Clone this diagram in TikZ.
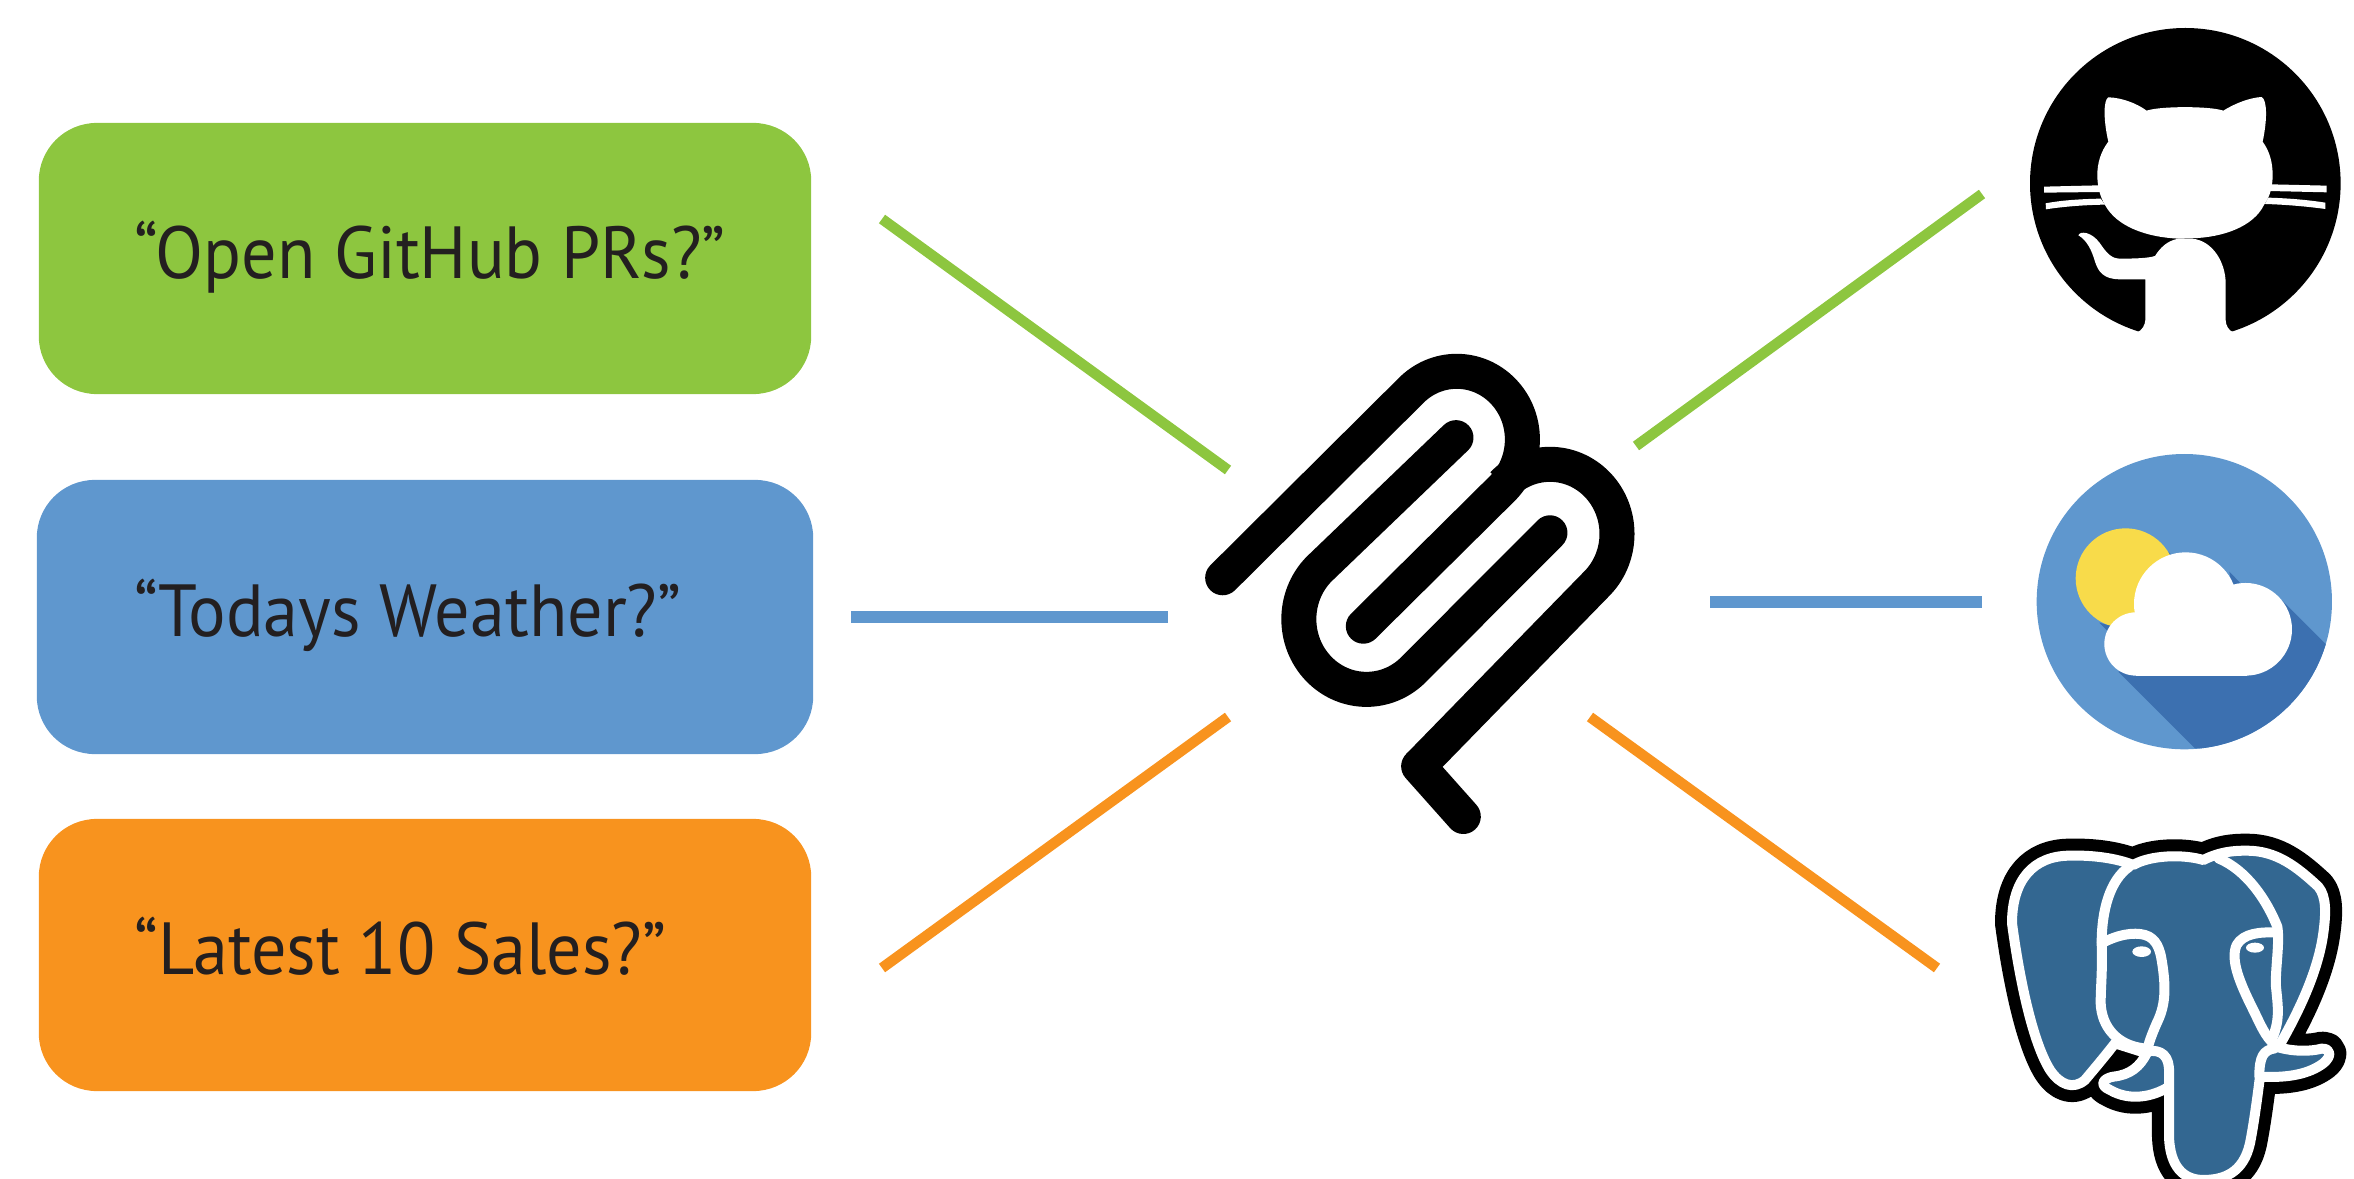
\documentclass[tikz,border=0pt]{standalone}
\usepackage{fontspec}
\setmainfont[FakeStretch=0.95]{PT Sans}
\definecolor{qgreen}{HTML}{8DC63F}
\definecolor{qblue}{HTML}{5F97CE}
\definecolor{qorange}{HTML}{F8931E}
\definecolor{qink}{HTML}{231F20}
\definecolor{dkblue}{HTML}{3C70B0}
\definecolor{sunyellow}{HTML}{F8DB4A}
\definecolor{pg}{HTML}{336791}
\tikzset{
  qbox/.style={rounded corners=0.58cm,draw=none,inner sep=0pt},
  qtext/.style={anchor=base west,inner sep=0pt,text=qink,font=\fontsize{21}{24}\selectfont},
  link/.style={line width=0.105cm},
  clip wire/.style={line width=0.35cm,line cap=round,line join=round,draw=black},
  pgline/.style={draw=white,line width=0.1cm,line cap=round,line join=round}
}
\begin{document}
\begin{tikzpicture}[x=0.01cm,y=-0.01cm]
\useasboundingbox (0,0) rectangle (2354,1179);
% question boxes
\node[qbox,fill=qgreen,minimum width=7.72cm,minimum height=2.71cm] (q1) at (425,258.5) {};
\node[qbox,fill=qblue,minimum width=7.76cm,minimum height=2.74cm] (q2) at (425,617) {};
\node[qbox,fill=qorange,minimum width=7.72cm,minimum height=2.72cm] (q3) at (425,955) {};
\node[qtext] (t1) at (134,278) {“Open GitHub PRs?”};
\node[qtext] (t2) at (134,636) {“Todays Weather?”};
\node[qtext] (t3) at (134,974) {“Latest 10 Sales?”};
% connector ends
\coordinate (a1) at (882,219); \coordinate (b1) at (1228,470);
\coordinate (a2) at (851,617); \coordinate (b2) at (1168,617);
\coordinate (a3) at (882,968); \coordinate (b3) at (1228,717);
\coordinate (c1) at (1636,446); \coordinate (d1) at (1982,194);
\coordinate (c2) at (1710,602); \coordinate (d2) at (1982,602);
\coordinate (c3) at (1590,717); \coordinate (d3) at (1937,968);
\draw[link,draw=qgreen] (a1) -- (b1);
\draw[link,draw=qblue,line width=0.115cm] (a2) -- (b2);
\draw[link,draw=qorange] (a3) -- (b3);
\draw[link,draw=qgreen] (c1) -- (d1);
\draw[link,draw=qblue,line width=0.115cm] (c2) -- (d2);
\draw[link,draw=qorange] (c3) -- (d3);
% paperclip
\begin{scope}[shift={(1150,320)},xscale=0.3333,yscale=0.346]
\draw[clip wire] (218,745) -- (781,206) arc[start angle=225,end angle=405,radius=197] -- (640,885);
\draw[clip wire] (918,340) -- (506,721) arc[start angle=225,end angle=45,radius=203] -- (1200,615);
\draw[clip wire,line cap=butt] (1058,476) arc[start angle=225,end angle=405,radius=201] -- (806,1290);
\draw[clip wire] (806,1290) -- (940,1435);
\end{scope}
% GitHub
\begin{scope}[shift={(1980,0)},scale=0.3333]
\fill[black] (616,550) circle[radius=466];
\fill[white] (500,332) .. controls (540,318) and (690,318) .. (730,332)
 .. controls (765,310) and (810,293) .. (845,291)
 .. controls (862,300) and (862,360) .. (848,425)
 .. controls (870,455) and (878,490) .. (878,525)
 .. controls (878,560) and (870,590) .. (852,615)
 .. controls (820,680) and (730,712) .. (636,715)
 -- (596,716)
 .. controls (500,712) and (410,680) .. (375,615)
 .. controls (360,590) and (352,560) .. (352,525)
 .. controls (352,490) and (362,455) .. (385,425)
 .. controls (370,360) and (370,300) .. (385,292)
 .. controls (425,293) and (470,310) .. (500,332) -- cycle;
\fill[white] (636,716) .. controls (700,722) and (737,790) .. (737,850) -- (737,960)
 .. controls (737,975) and (745,992) .. (762,998) -- (762,1040) -- (472,1040) -- (472,997)
 .. controls (485,992) and (496,975) .. (496,960) -- (496,838) -- (420,838)
 .. controls (370,838) and (355,815) .. (345,785)
 .. controls (335,750) and (320,720) .. (295,706)
 .. controls (300,692) and (335,695) .. (360,730)
 .. controls (380,760) and (395,776) .. (420,776)
 .. controls (460,776) and (505,775) .. (525,768)
 .. controls (540,745) and (560,722) .. (596,716) -- cycle;
\fill[white] (192,560) -- (360,556) -- (365,576) -- (192,578) -- cycle;
\fill[white] (197,610) .. controls (250,600) and (310,597) .. (362,596) -- (375,614) .. controls (310,615) and (250,620) .. (198,628) -- cycle;
\fill[white] (870,553) -- (1040,557) -- (1040,577) -- (865,573) -- cycle;
\fill[white] (865,593) .. controls (930,595) and (985,600) .. (1036,608) -- (1036,627) .. controls (985,620) and (920,614) .. (855,612) -- cycle;
\end{scope}
% Weather
\begin{scope}[shift={(1980,430)},scale=0.3333]
\fill[qblue] (613,515) circle[radius=443];
\begin{scope}
\clip (613,515) circle[radius=443];
\fill[dkblue] (415,725) -- (645,955) -- (1100,960) -- (1100,705) -- (905,510) -- (800,600) -- cycle;
\fill[dkblue] (565,365) -- (590,390) -- (570,395) -- cycle;
\fill[dkblue] (748,425) -- (780,458) -- (755,465) -- cycle;
\end{scope}
\fill[sunyellow] (437,445) circle[radius=150];
\fill[dkblue] (358,578) -- (385,605) -- (400,590) -- cycle;
\fill[white] (468,642) circle[radius=95];
\fill[white] (617,522) circle[radius=155];
\fill[white] (797,598) circle[radius=139];
\fill[white] (468,600) rectangle (800,737);
\end{scope}
% PostgreSQL elephant
\begin{scope}
\clip (1900,800) rectangle (2354,1179);
\begin{scope}[shift={(1970,810)},scale=0.3333]
\def\pgsil{(126,340) .. controls (126,210) and (190,137) .. (300,137)
 .. controls (370,135) and (440,145) .. (490,165)
 .. controls (540,135) and (640,132) .. (700,150)
 .. controls (750,125) and (790,122) .. (830,122)
 .. controls (920,122) and (980,170) .. (1045,230)
 .. controls (1070,260) and (1068,310) .. (1060,370)
 .. controls (1045,480) and (990,600) .. (925,712)
 .. controls (970,725) and (1020,725) .. (1055,716)
 .. controls (1085,715) and (1085,740) .. (1060,760)
 .. controls (1020,790) and (960,805) .. (870,800)
 .. controls (860,880) and (850,950) .. (840,1000)
 .. controls (820,1090) and (760,1110) .. (700,1110)
 .. controls (640,1110) and (600,1070) .. (597,980)
 -- (597,830)
 .. controls (550,860) and (480,875) .. (420,840)
 .. controls (385,825) and (400,805) .. (430,800)
 .. controls (480,795) and (510,770) .. (530,730)
 -- (435,700)
 .. controls (400,745) and (370,780) .. (345,810)
 .. controls (310,840) and (270,825) .. (240,780)
 .. controls (190,700) and (150,520) .. (126,340) -- cycle}
\draw[black,line width=0.34cm,line join=round] \pgsil;
\draw[white,fill=pg,line width=0.1cm,line join=round] \pgsil;
\draw[pgline] (478,170) .. controls (420,210) and (395,300) .. (395,400)
 .. controls (398,480) and (392,530) .. (392,580)
 .. controls (395,650) and (440,705) .. (520,715);
\draw[pgline] (395,400) .. controls (440,375) and (490,365) .. (525,375)
 .. controls (560,385) and (570,420) .. (575,450)
 .. controls (590,540) and (585,590) .. (560,640)
 .. controls (545,675) and (535,700) .. (530,730);
\draw[pgline] (530,725) .. controls (575,715) and (600,740) .. (597,790) -- (597,830);
\draw[pgline] (745,145) .. controls (830,180) and (890,270) .. (922,350)
 .. controls (930,400) and (915,480) .. (918,530)
 .. controls (925,600) and (930,630) .. (905,690);
\draw[pgline] (920,368) .. controls (870,365) and (820,370) .. (800,405)
 .. controls (780,450) and (810,520) .. (850,600)
 .. controls (870,640) and (885,680) .. (915,705);
\draw[pgline] (915,715) .. controls (880,720) and (868,740) .. (868,800);
\fill[white] (515,425) ellipse[x radius=28,y radius=16];
\fill[white] (855,413) ellipse[x radius=27,y radius=15];
\end{scope}
\end{scope}
\end{tikzpicture}
\end{document}
